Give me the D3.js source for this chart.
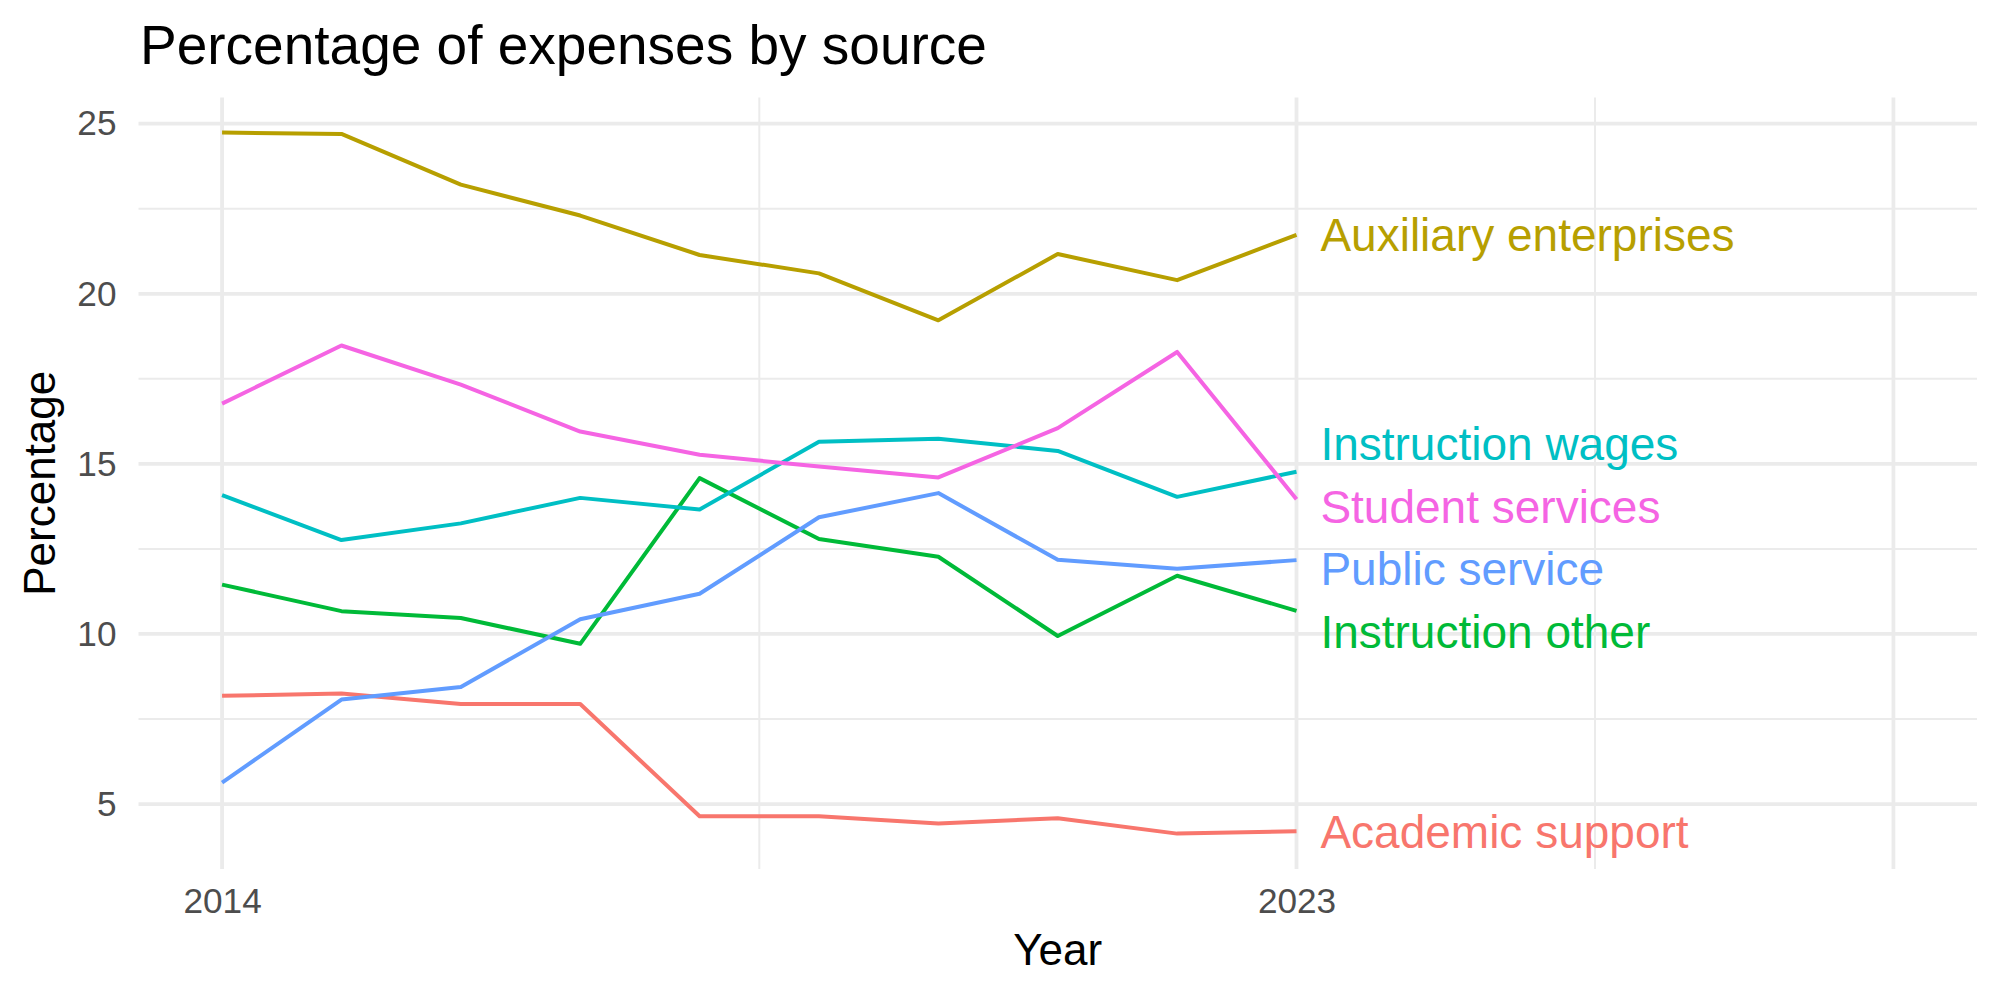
<!DOCTYPE html>
<html>
<head>
<meta charset="utf-8">
<script src="https://cdn.jsdelivr.net/npm/d3@7"></script>
<style>
  html, body { margin: 0; padding: 0; background: #fff; }
  svg { display: block; font-family: "Liberation Sans", Arial, Helvetica, sans-serif; }
</style>
</head>
<body>
<svg id="chart" width="2000" height="1000"></svg>
<script>
// ---- Data ----
const years = [2014, 2015, 2016, 2017, 2018, 2019, 2020, 2021, 2022, 2023];
const seriesNames = ["Academic support", "Auxiliary enterprises", "Instruction other", "Instruction wages", "Public service", "Student services"];
const seriesColors = ["#F8766D", "#B79F00", "#00BA38", "#00BFC4", "#619CFF", "#F564E3"];
const academicSupport   = [8.18, 8.25, 7.94, 7.94, 4.64, 4.64, 4.43, 4.58, 4.13, 4.20];
const auxiliaryEnterpr  = [24.74, 24.70, 23.21, 22.30, 21.14, 20.60, 19.22, 21.17, 20.40, 21.73];
const instructionOther  = [11.45, 10.67, 10.47, 9.71, 14.58, 12.79, 12.27, 9.94, 11.71, 10.68];
const instructionWages  = [14.08, 12.76, 13.25, 14.00, 13.66, 15.65, 15.74, 15.38, 14.03, 14.77];
const publicService     = [5.63, 8.07, 8.44, 10.43, 11.18, 13.43, 14.14, 12.18, 11.92, 12.17];
const studentServices   = [16.77, 18.48, 17.33, 15.95, 15.27, 14.92, 14.60, 16.05, 18.29, 13.96];
const seriesValues = [academicSupport, auxiliaryEnterpr, instructionOther, instructionWages, publicService, studentServices];
// label anchor values (after repel)
const labelYears  = [2023.2, 2023.2, 2023.2, 2023.2, 2023.2, 2023.2];
const labelValues = [4.20, 21.73, 10.06, 15.60, 11.92, 13.76];

const xMajorBreaks = [2014, 2023, 2028];
const xTickLabels  = ["2014", "2023", ""];
const xMinorBreaks = [2018.5, 2025.5];
const yMajorBreaks = [5, 10, 15, 20, 25];
const yMinorBreaks = [7.5, 12.5, 17.5, 22.5];

const titleText = "Percentage of expenses by source";
const xTitle = "Year";
const yTitle = "Percentage";

// ---- Layout ----
const svg = d3.select("#chart");
const panel = { left: 138.5, right: 1977, top: 97.5, bottom: 869 };

const x = d3.scaleLinear().domain([2013.3, 2028.7]).range([panel.left, panel.right]);
const y = d3.scaleLinear().domain([3.09, 25.77]).range([panel.bottom, panel.top]);

const grid = svg.append("g");
grid.selectAll("line.ymin").data(yMinorBreaks).enter().append("line")
  .attr("x1", panel.left).attr("x2", panel.right)
  .attr("y1", d => y(d)).attr("y2", d => y(d))
  .attr("stroke", "#EBEBEB").attr("stroke-width", 2);
grid.selectAll("line.xmin").data(xMinorBreaks).enter().append("line")
  .attr("y1", panel.top).attr("y2", panel.bottom)
  .attr("x1", d => x(d)).attr("x2", d => x(d))
  .attr("stroke", "#EBEBEB").attr("stroke-width", 2);
grid.selectAll("line.ymaj").data(yMajorBreaks).enter().append("line")
  .attr("x1", panel.left).attr("x2", panel.right)
  .attr("y1", d => y(d)).attr("y2", d => y(d))
  .attr("stroke", "#EBEBEB").attr("stroke-width", 3.8);
grid.selectAll("line.xmaj").data(xMajorBreaks).enter().append("line")
  .attr("y1", panel.top).attr("y2", panel.bottom)
  .attr("x1", d => x(d)).attr("x2", d => x(d))
  .attr("stroke", "#EBEBEB").attr("stroke-width", 3.8);

// Axes (text only, theme_minimal)
const yAxis = d3.axisLeft(y).tickValues(yMajorBreaks).tickSize(0).tickPadding(22).tickFormat(d3.format("d"));
const gy = svg.append("g").attr("transform", `translate(${panel.left},0)`).call(yAxis);
gy.select(".domain").remove();
gy.selectAll("text").attr("fill", "#4D4D4D").style("font-size", "35.2px")
  .style("font-family", '"Liberation Sans", Arial, sans-serif');

const xAxis = d3.axisBottom(x).tickValues(xMajorBreaks).tickSize(0).tickPadding(19)
  .tickFormat((d, i) => xTickLabels[i]);
const gx = svg.append("g").attr("transform", `translate(0,${panel.bottom})`).call(xAxis);
gx.select(".domain").remove();
gx.selectAll("text").attr("fill", "#4D4D4D").style("font-size", "35.2px")
  .style("font-family", '"Liberation Sans", Arial, sans-serif');

// Lines
const line = d3.line().x((d, i) => x(years[i])).y(d => y(d));
svg.append("g").selectAll("path").data(seriesValues).enter().append("path")
  .attr("d", d => line(d))
  .attr("fill", "none")
  .attr("stroke", (d, i) => seriesColors[i])
  .attr("stroke-width", 4)
  .attr("stroke-linejoin", "round");

// Labels
const labelSize = 46;
svg.append("g").selectAll("text").data(seriesNames).enter().append("text")
  .attr("x", (d, i) => x(labelYears[i]))
  .attr("y", (d, i) => y(labelValues[i]) + 0.358 * labelSize)
  .attr("fill", (d, i) => seriesColors[i])
  .style("font-size", labelSize + "px")
  .text(d => d);

// Titles
svg.append("text").attr("x", 140).attr("y", 64)
  .style("font-size", "55px").attr("fill", "#000").text(titleText);
svg.append("text").attr("x", (panel.left + panel.right) / 2).attr("y", 965)
  .attr("text-anchor", "middle").style("font-size", "44px").attr("fill", "#000").text(xTitle);
svg.append("text").attr("transform", `translate(55,${(panel.top + panel.bottom) / 2}) rotate(-90)`)
  .attr("text-anchor", "middle").style("font-size", "44px").attr("fill", "#000").text(yTitle);
</script>
</body>
</html>
